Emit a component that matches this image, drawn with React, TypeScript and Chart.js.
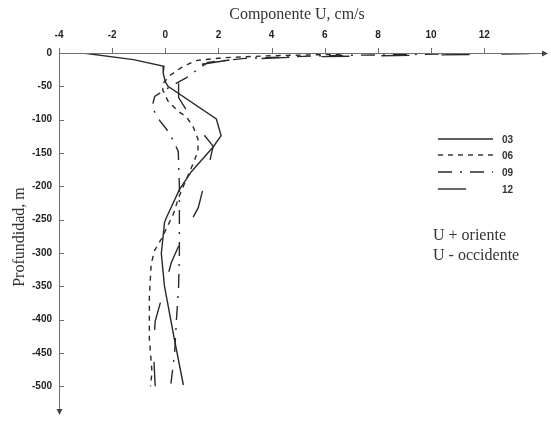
import { useEffect, useRef } from 'react';
import { Chart, registerables } from 'chart.js';
Chart.register(...registerables);

const xTicks = [-4, -2, 0, 2, 4, 6, 8, 10, 12];
const yTicks = [0, -50, -100, -150, -200, -250, -300, -350, -400, -450, -500];
const seriesNames = ['03', '06', '09', '12'];

const depth03 = [0, -10, -20, -30, -43, -50, -99, -124, -141, -178, -205, -247, -254, -301, -350, -429, -498];
const u03 = [-3.1, -1.2, -0.05, -0.08, 0.0, 0.1, 1.92, 2.1, 1.8, 0.98, 0.53, 0.04, -0.03, -0.15, -0.03, 0.34, 0.68];

const depth06 = [-2, -4, -7, -11, -16, -22, -33, -44, -55, -72, -87, -96, -111, -129, -146, -161, -198, -217, -242, -279, -296, -316, -365, -429, -479, -500];
const u06 = [6.6, 4.0, 2.2, 1.2, 0.9, 0.6, 0.2, -0.05, -0.1, 0.1, 0.47, 0.8, 1.05, 1.23, 1.23, 1.1, 0.7, 0.5, 0.3, -0.15, -0.4, -0.53, -0.6, -0.6, -0.5, -0.56];

const depth09 = [-1, -4, -8, -14, -25, -37, -50, -65, -81, -99, -114, -131, -148, -167, -200, -250, -300, -350, -400, -450, -500];
const u09 = [11.5, 6.0, 3.0, 1.6, 1.2, 0.8, 0.2, -0.4, -0.5, -0.26, 0.04, 0.3, 0.49, 0.5, 0.53, 0.53, 0.53, 0.5, 0.42, 0.35, 0.2];

const depth12 = [-1, -3, -6, -10, -18, -40, -67, -102, -140, -185, -232, -272, -314, -354, -402, -444, -500];
const u12 = [13.7, 10.0, 5.0, 2.5, 1.2, 0.5, 0.5, 1.05, 1.8, 1.54, 1.24, 0.7, 0.23, -0.04, -0.38, -0.45, -0.38];

const dashes: number[][] = [[], [5, 5], [14, 8, 2, 8], [28, 32]];

const toPts = (u: number[], d: number[]) => u.map((x, i) => ({ x, y: d[i] }));

export default function App() {
  const ref = useRef<HTMLCanvasElement>(null);
  useEffect(() => {
    const canvas = ref.current;
    if (!canvas) return;
    const lineColor = '#2a2a2a';
    const data = [toPts(u03, depth03), toPts(u06, depth06), toPts(u09, depth09), toPts(u12, depth12)];
    const decor = {
      id: 'decor',
      afterDraw(chart: any) {
        const ctx = chart.ctx;
        const xs = chart.scales.x;
        const ys = chart.scales.y;
        const y0 = ys.getPixelForValue(0);
        const x0 = xs.getPixelForValue(-4);
        ctx.save();
        ctx.strokeStyle = '#6f6f6f';
        ctx.fillStyle = '#444';
        ctx.lineWidth = 1;
        ctx.setLineDash([]);
        // x axis
        ctx.beginPath();
        ctx.moveTo(x0, y0 + 0.5);
        ctx.lineTo(xs.right - 2, y0 + 0.5);
        ctx.stroke();
        ctx.beginPath();
        ctx.moveTo(xs.right, y0 + 0.5);
        ctx.lineTo(xs.right - 6, y0 - 2.5);
        ctx.lineTo(xs.right - 6, y0 + 3.5);
        ctx.closePath();
        ctx.fill();
        // y axis
        ctx.beginPath();
        ctx.moveTo(x0 + 0.5, y0);
        ctx.lineTo(x0 + 0.5, ys.bottom - 2);
        ctx.stroke();
        ctx.beginPath();
        ctx.moveTo(x0 + 0.5, ys.bottom);
        ctx.lineTo(x0 - 2.5, ys.bottom - 6);
        ctx.lineTo(x0 + 3.5, ys.bottom - 6);
        ctx.closePath();
        ctx.fill();
        // ticks
        xTicks.forEach((v) => {
          const px = Math.round(xs.getPixelForValue(v)) + 0.5;
          ctx.beginPath();
          ctx.moveTo(px, y0);
          ctx.lineTo(px, y0 - 5);
          ctx.stroke();
        });
        yTicks.forEach((v) => {
          const py = Math.round(ys.getPixelForValue(v)) + 0.5;
          ctx.beginPath();
          ctx.moveTo(x0, py);
          ctx.lineTo(x0 + 5, py);
          ctx.stroke();
        });
        // titles
        ctx.fillStyle = '#333';
        ctx.font = '16px "Liberation Serif"';
        ctx.textAlign = 'center';
        ctx.textBaseline = 'middle';
        ctx.fillText('Componente U, cm/s', 297, 15);
        ctx.save();
        ctx.translate(20, 237);
        ctx.rotate(-Math.PI / 2);
        ctx.fillText('Profundidad, m', 0, 0);
        ctx.restore();
        // legend
        const ly = [139, 155, 172, 189];
        seriesNames.forEach((name, i) => {
          ctx.strokeStyle = lineColor;
          ctx.lineWidth = 1.4;
          ctx.setLineDash(dashes[i]);
          ctx.beginPath();
          ctx.moveTo(438, ly[i]);
          ctx.lineTo(493, ly[i]);
          ctx.stroke();
          ctx.setLineDash([]);
          ctx.fillStyle = '#333';
          ctx.font = 'bold 10px "Liberation Sans"';
          ctx.textAlign = 'left';
          ctx.fillText(name, 502, ly[i] + 1);
        });
        ctx.font = '16px "Liberation Serif"';
        ctx.fillStyle = '#333';
        ctx.textAlign = 'left';
        ctx.fillText('U + oriente', 433, 236);
        ctx.fillText('U - occidente', 433, 256);
        ctx.restore();
      },
    };
    const chart = new Chart(canvas, {
      type: 'scatter',
      data: {
        datasets: data.map((pts, i) => ({
          label: seriesNames[i],
          data: pts,
          showLine: true,
          borderColor: lineColor,
          borderWidth: 1.4,
          borderDash: dashes[i],
          pointRadius: 0,
          tension: 0,
        })),
      },
      options: {
        animation: false,
        responsive: false,
        layout: { padding: { left: 0, top: 0, right: 3, bottom: 8 } },
        plugins: { legend: { display: false }, tooltip: { enabled: false } },
        scales: {
          x: {
            type: 'linear',
            position: 'top',
            min: -4,
            max: 14.4,
            grid: { display: false, drawTicks: false },
            border: { display: false },
            afterBuildTicks: (s: any) => { s.ticks = xTicks.map((v) => ({ value: v })); },
            afterFit: (s: any) => { s.height = 53; },
            ticks: {
              padding: 12,
              color: '#222',
              font: { family: 'Liberation Sans', size: 10, weight: 'bold' },
              maxRotation: 0,
            },
          },
          y: {
            type: 'linear',
            min: -543,
            max: 0,
            grid: { display: false, drawTicks: false },
            border: { display: false },
            afterBuildTicks: (s: any) => { s.ticks = yTicks.map((v) => ({ value: v })); },
            afterFit: (s: any) => { s.width = 59; },
            ticks: {
              padding: 7,
              color: '#222',
              font: { family: 'Liberation Sans', size: 10, weight: 'bold' },
            },
          },
        },
      },
      plugins: [decor],
    });
    return () => chart.destroy();
  }, []);
  return (
    <div style={{ position: 'absolute', left: 0, top: 0, width: 551, height: 428, background: '#fff' }}>
      <canvas ref={ref} width={551} height={428} />
    </div>
  );
}
